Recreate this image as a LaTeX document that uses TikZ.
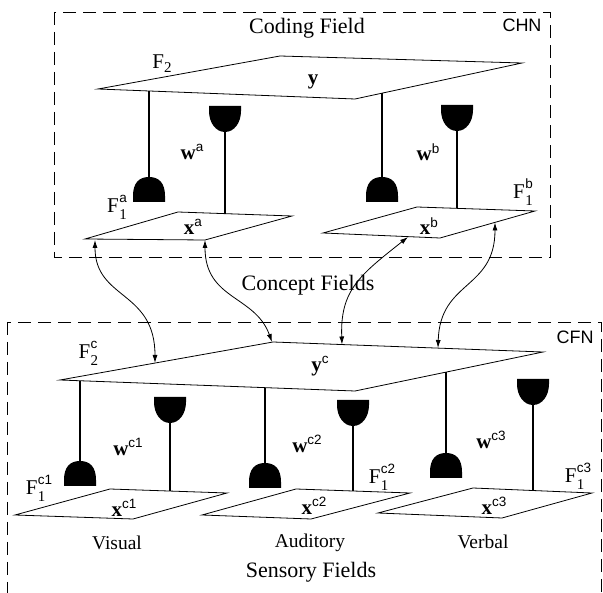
\documentclass[tikz,border=0pt]{standalone}
\usepackage{fontspec}
\setmainfont{Liberation Serif}
\setsansfont{Liberation Sans}
\usetikzlibrary{arrows.meta}
\newcommand\sups[2][0.36em]{\raisebox{#1}{\sffamily\fontsize{13.5}{14}\selectfont #2}}
\newcommand\subs[2][-0.32em]{\raisebox{#1}{\fontsize{15}{15}\selectfont #2}}
\newcommand\both[3]{#1\kern0.5pt\rlap{\subs{#3}}\sups[0.5em]{#2}}
\tikzset{
  plane/.style={draw, fill=white, line width=0.8pt, line join=miter},
  stem/.style={line width=1.3pt},
  fieldbox/.style={draw, dash pattern=on 13pt off 7pt, line width=0.8pt},
  link/.style={line width=0.8pt, {Latex[length=8pt,width=5pt]}-{Latex[length=8pt,width=5pt]}},
  lbl/.style={font=\fontsize{21}{24}\selectfont, inner sep=0pt},
  title/.style={font=\fontsize{22}{26}\selectfont, inner sep=0pt},
  sense/.style={font=\fontsize{19.5}{23}\selectfont, inner sep=0pt},
  tag/.style={font=\sffamily\fontsize{18}{21}\selectfont, inner sep=0pt},
  dome/.pic={\fill (-16,0) -- (-16,-6) .. controls (-16,-19) and (-10,-25) .. (0,-25) .. controls (10,-25) and (16,-19) .. (16,-6) -- (16,0) -- cycle;},
  cup/.pic={\fill (-16,0) -- (16,0) -- (16,5) .. controls (16,17) and (9,26) .. (0,26) .. controls (-9,26) and (-16,17) .. (-16,5) -- cycle;}
}
\begin{document}
\begin{tikzpicture}[x=1pt,y=-1pt]
\useasboundingbox (0,0) rectangle (603,593);
% ---------- field boxes
\draw[fieldbox] (54,12) rectangle (550,257);
\draw[fieldbox] (7,322) rectangle (601,600);
% ---------- top planes
\coordinate (F2L) at (98,89);  \coordinate (F2T) at (280,56);
\coordinate (F2R) at (522,63); \coordinate (F2B) at (355,99);
\draw[plane] (F2L) -- (F2T) -- (F2R) -- (F2B) -- cycle;
\coordinate (aL) at (85,239);  \coordinate (aT) at (178,212);
\coordinate (aR) at (292,216); \coordinate (aB) at (205,240);
\draw[plane] (aL) -- (aT) -- (aR) -- (aB) -- cycle;
\coordinate (bL) at (323,233); \coordinate (bT) at (417,207);
\coordinate (bR) at (535,211); \coordinate (bB) at (440,238);
\draw[plane] (bL) -- (bT) -- (bR) -- (bB) -- cycle;
% ---------- lower planes
\coordinate (cL) at (60,380);  \coordinate (cT) at (273,342);
\coordinate (cR) at (543,352); \coordinate (cB) at (355,391);
\draw[plane] (cL) -- (cT) -- (cR) -- (cB) -- cycle;
\draw[plane] (15,515) -- (110,489) -- (227,493) -- (133,519) -- cycle;
\draw[plane] (202,515) -- (296,489) -- (410,493) -- (311,519) -- cycle;
\draw[plane] (378,513) -- (473,488) -- (592,493) -- (502,518) -- cycle;
% ---------- top stems and cups
\coordinate (s1a) at (149,91);  \coordinate (s1b) at (149,180);
\draw[stem] (s1a) -- (s1b); \pic at (149,202) {dome};
\coordinate (s2a) at (225,128); \coordinate (s2b) at (225,214);
\draw[stem] (s2a) -- (s2b); \pic at (225,106) {cup};
\coordinate (s3a) at (382,93);  \coordinate (s3b) at (382,180);
\draw[stem] (s3a) -- (s3b); \pic at (382,202) {dome};
\coordinate (s4a) at (457,128); \coordinate (s4b) at (457,208.5);
\draw[stem] (s4a) -- (s4b); \pic at (457,105) {cup};
% ---------- lower stems and cups
\coordinate (t1a) at (80,381);  \coordinate (t1b) at (80,464);
\draw[stem] (t1a) -- (t1b); \pic at (80,486) {dome};
\coordinate (t2a) at (170,420); \coordinate (t2b) at (170,491);
\draw[stem] (t2a) -- (t2b); \pic at (170,397) {cup};
\coordinate (t3a) at (265,388); \coordinate (t3b) at (265,466);
\draw[stem] (t3a) -- (t3b); \pic at (265,488) {dome};
\coordinate (t4a) at (353,423); \coordinate (t4b) at (353,491);
\draw[stem] (t4a) -- (t4b); \pic at (353,400) {cup};
\coordinate (t5a) at (446,372); \coordinate (t5b) at (446,456);
\draw[stem] (t5a) -- (t5b); \pic at (446,478) {dome};
\coordinate (t6a) at (533,402); \coordinate (t6b) at (533,490.5);
\draw[stem] (t6a) -- (t6b); \pic at (533,379) {cup};
% ---------- links between concept fields
\coordinate (u1) at (95,240);  \coordinate (d1) at (155,363);
\coordinate (u2) at (205,240); \coordinate (d2) at (272,342);
\coordinate (u3) at (408,237); \coordinate (d3) at (342,344.5);
\coordinate (u4) at (495,222.5); \coordinate (d4) at (438,348);
\draw[link] (u1) .. controls (95,300) and (155,290) .. (d1);
\draw[link] (u2) .. controls (205,300) and (255,295) .. (d2);
\draw[link] (u3) .. controls (360,275) and (340,290) .. (d3);
\draw[link] (u4) .. controls (495,290) and (440,280) .. (d4);
% ---------- texts
\node[title] (coding) at (307,28) {Coding Field};
\node[tag] (chn) at (522,25) {CHN};
\node[lbl] (lF2) at (162,64) {F\subs[-0.2em]{2}};
\node[lbl] (ly) at (313,82) {\textbf{y}};
\node[lbl] (lwa) at (192,152) {\textbf{w}\sups{a}};
\node[lbl] (lwb) at (428,152) {\textbf{w}\sups{b}};
\node[lbl] (lF1a) at (117,207) {\both{F}{a}{1}};
\node[lbl] (lF1b) at (523,192) {\both{F}{b}{1}};
\node[lbl] (lxa) at (193,227) {\textbf{x}\sups{a}};
\node[lbl] (lxb) at (429,226) {\textbf{x}\sups{b}};
\node[title] (concept) at (308,285) {Concept Fields};
\node[tag] (cfn) at (575,337) {CFN};
\node[lbl] (lF2c) at (88,353) {\both{F}{c}{2}};
\node[lbl] (lyc) at (320,366) {\textbf{y}\sups{c}};
\node[lbl] (lwc1) at (128,447) {\textbf{w}\sups{c1}};
\node[lbl] (lwc2) at (307,444) {\textbf{w}\sups{c2}};
\node[lbl] (lwc3) at (491,440) {\textbf{w}\sups{c3}};
\node[lbl] (lF1c1) at (39,488) {\both{F}{c1}{1}};
\node[lbl] (lF1c2) at (382,477) {\both{F}{c2}{1}};
\node[lbl] (lF1c3) at (578,476) {\both{F}{c3}{1}};
\node[lbl] (lxc1) at (124,508) {\textbf{x}\sups{c1}};
\node[lbl] (lxc2) at (314,506) {\textbf{x}\sups{c2}};
\node[lbl] (lxc3) at (494,506) {\textbf{x}\sups{c3}};
\node[sense] (visual) at (117,543) {Visual};
\node[sense] (auditory) at (310,543) {Auditory};
\node[sense] (verbal) at (483,542) {Verbal};
\node[title] (sensory) at (311,572) {Sensory Fields};
\end{tikzpicture}
\end{document}
